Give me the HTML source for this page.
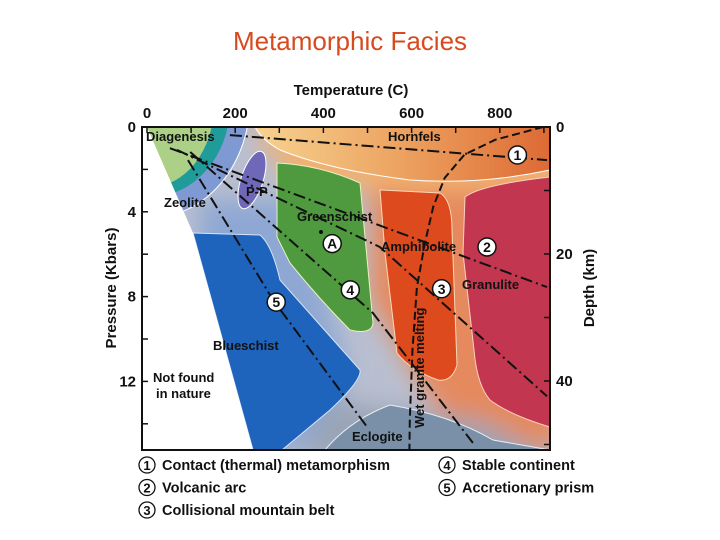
<!DOCTYPE html>
<html><head><meta charset="utf-8"><style>
html,body{margin:0;background:#fff;width:720px;height:540px;overflow:hidden}
svg{display:block}
svg text{font-family:"Liberation Sans",sans-serif}
.b{font-weight:bold;fill:#111}
</style></head><body>
<svg id="c" width="720" height="540" viewBox="0 0 720 540">
<defs>
<filter id="blur" x="-20%" y="-20%" width="140%" height="140%"><feGaussianBlur stdDeviation="12"/></filter>
<linearGradient id="horn" x1="0" x2="1" y1="0" y2="0"><stop offset="0" stop-color="#f7d290"/><stop offset="0.5" stop-color="#eca260"/><stop offset="1" stop-color="#dd6a35"/></linearGradient>
<clipPath id="plot"><rect x="142" y="127" width="408" height="323"/></clipPath>
</defs>
<text x="350" y="50" text-anchor="middle" font-size="26" fill="#d84a1e">Metamorphic Facies</text>
<text x="351" y="95" text-anchor="middle" font-size="15" class="b">Temperature (C)</text>
<g id="xt"></g>
<g id="yt"></g>
<text transform="translate(116,288) rotate(-90)" text-anchor="middle" font-size="15" class="b">Pressure (Kbars)</text>
<text transform="translate(594,288) rotate(-90)" text-anchor="middle" font-size="15" class="b">Depth (km)</text>
<g clip-path="url(#plot)">
<rect x="142" y="127" width="408" height="323" fill="#b9bfd0"/>
<g filter="url(#blur)">
<path d="M370,170 L560,150 L560,450 L480,450 L430,400 L370,300Z" fill="#e58a5e"/>
<path d="M250,127 L560,127 L560,190 L300,190Z" fill="#f1b070"/>
<path d="M200,200 L300,200 L350,380 L300,450 L200,450Z" fill="#8ea7d3"/>
<path d="M330,400 L480,420 L560,460 L300,460Z" fill="#9aa4b5"/>
</g>
<path d="M255,127 L550,127 L550,170 Q480,185 410,180 Q330,170 280,150 Q262,140 255,127Z" fill="url(#horn)" stroke="#fff" stroke-width="1"/>
<ellipse cx="150" cy="100" rx="100" ry="118" fill="#7f99d2" stroke="#fff"/>
<ellipse cx="150" cy="105" rx="80" ry="92" fill="#1f9b9a"/>
<ellipse cx="150" cy="105" rx="64" ry="82" fill="#acd086"/>
<ellipse cx="252" cy="180" rx="11" ry="30" transform="rotate(18 252 180)" fill="#6f67b8" stroke="#fff"/>
<path d="M277,163 Q320,165 360,183 L373,323 Q372,335 350,330 Q320,300 290,263 L277,237Z" fill="#4f9a3e" stroke="#e8f0c0"/>
<path d="M380,190 L440,193 Q452,200 452,230 L457,365 Q452,382 438,380 Q410,370 397,353 L385,253Z" fill="#dd4a1e" stroke="#fbd8b8"/>
<path d="M465,197 Q480,185 550,177 L550,427 Q510,415 490,400 Q477,385 474,350 L463,253Z" fill="#c2374f" stroke="#fbd0c0"/>
<path d="M193,233 L260,235 Q272,245 280,280 L360,370 Q362,380 330,410 L282,450 L253,450Z" fill="#1f64bc" stroke="#d8e4f8"/>
<path d="M325,450 Q350,420 390,405 Q450,415 493,440 L550,450Z" fill="#7a90a8" stroke="#e8eef4"/>
<path d="M142,127 L147,127 L193,233 L253,450 L142,450Z" fill="#fff"/>
<g id="lines"></g>
</g>
<rect x="142" y="127" width="408" height="323" fill="none" stroke="#111" stroke-width="2"/>
<g id="ticks"></g>
<g font-size="13" class="b">
<text x="146" y="141" class="b">Diagenesis</text>
<text x="388" y="141" class="b">Hornfels</text>
<text x="164" y="207" class="b">Zeolite</text>
<text x="246" y="196" class="b">P-P</text>
<text x="297" y="221" class="b">Greenschist</text>
<text x="381" y="251" class="b">Amphibolite</text>
<text x="462" y="289" class="b">Granulite</text>
<text x="213" y="350" class="b">Blueschist</text>
<text x="153" y="382" class="b">Not found</text>
<text x="156" y="398" class="b">in nature</text>
<text x="352" y="441" class="b">Eclogite</text>
<text transform="translate(424,428) rotate(-90)" class="b">Wet granite melting</text>
<circle cx="321" cy="232" r="2" fill="#111"/>
</g>
<g id="marks"></g>
<g id="legend"></g>
</svg>
<script>
const tempTicks=[0,200,400,600,800];
const presTicks=[0,4,8,12];
const depthTicks=[0,20,40];
const line1T=[188,907], line1P=[0.38,1.56];
const line2T=[52,907], line2P=[1.0,7.55];
const line3T=[68,528,907], line3P=[1.08,5.66,12.7];
const line4T=[98,512,739], line4P=[1.18,8.77,14.9];
const line5T=[93,286,499], line5P=[1.56,8.16,14.15];
const wetT=[898,790,720,675,649,630,612,602,596,595], wetP=[0,0.6,1.3,2.4,3.77,5.5,7.55,10.5,13.8,15.3];
const markerIds=['1','2','3','4','5','A'];
const markerT=[840,771,668,461,293,420];
const markerP=[1.32,5.66,7.63,7.68,8.26,5.5];
const legendLabels=['Contact (thermal) metamorphism','Volcanic arc','Collisional mountain belt','Stable continent','Accretionary prism'];
const NS='http://www.w3.org/2000/svg';
const X=t=>147+t*0.441, Y=p=>127+p*21.2, YD=d=>127+d*6.35;
function el(tag,attrs,parent,txt){const e=document.createElementNS(NS,tag);for(const k in attrs)e.setAttribute(k,attrs[k]);if(txt!==undefined)e.textContent=txt;parent.appendChild(e);return e;}
const xt=document.getElementById('xt'),yt=document.getElementById('yt'),tk=document.getElementById('ticks');
tempTicks.forEach(t=>{const e=el('text',{x:X(t),y:118,'text-anchor':'middle','font-size':15,'class':'b'},xt,t);

});
presTicks.forEach(p=>{const e=el('text',{x:136,y:Y(p)+5,'text-anchor':'end','font-size':15,'class':'b'},yt,p);

});
depthTicks.forEach(d=>{const e=el('text',{x:556,y:YD(d)+5,'font-size':15,'class':'b'},yt,d);

});
for(let t=0;t<=900;t+=100){el('line',{x1:X(t),x2:X(t),y1:127,y2:133,stroke:'#111','stroke-width':1.5},tk);}
for(let p=0;p<=15;p+=2){el('line',{x1:142,x2:148,y1:Y(p),y2:Y(p),stroke:'#111','stroke-width':1.5},tk);}
for(let d=0;d<=50;d+=10){el('line',{x1:544,x2:550,y1:YD(d),y2:YD(d),stroke:'#111','stroke-width':1.5},tk);}
const lg=document.getElementById('lines');
function drawLine(T,P,dash,name){const pts=T.map((t,i)=>X(t).toFixed(1)+','+Y(P[i]).toFixed(1)).join(' ');
const e=el('polyline',{points:pts,fill:'none',stroke:'#111','stroke-width':2,'stroke-dasharray':dash,'stroke-linejoin':'round'},lg);

}
const dd='12,4,2,4';
drawLine(line1T,line1P,dd,'contact-line');
drawLine(line2T,line2P,dd,'volcanic-arc-line');
drawLine(line3T,line3P,dd,'collisional-line');
drawLine(line4T,line4P,dd,'stable-continent-line');
drawLine(line5T,line5P,dd,'accretionary-line');
drawLine(wetT,wetP,'8,4','wet-granite-melting-line');
const mk=document.getElementById('marks');
markerIds.forEach((m,i)=>{const g=el('g',{},mk);


el('circle',{cx:X(markerT[i]),cy:Y(markerP[i]),r:9,fill:'#fff',stroke:'#111','stroke-width':1.5},g);
el('text',{x:X(markerT[i]),y:Y(markerP[i])+5,'text-anchor':'middle','font-size':14,'class':'b'},g,m);});
const lgd=document.getElementById('legend');
legendLabels.forEach((l,i)=>{const col=i<3?0:1,row=i<3?i:i-3;const x=col?447:147,y=465+row*22.5;
const g=el('g',{},lgd);


el('circle',{cx:x,cy:y,r:8,fill:'#fff',stroke:'#111','stroke-width':1.3},g);
el('text',{x:x,y:y+5,'text-anchor':'middle','font-size':13,'class':'b'},g,i+1);
el('text',{x:x+15,y:y+5,'font-size':14.5,'class':'b'},g,l);});
</script>
</body></html>
